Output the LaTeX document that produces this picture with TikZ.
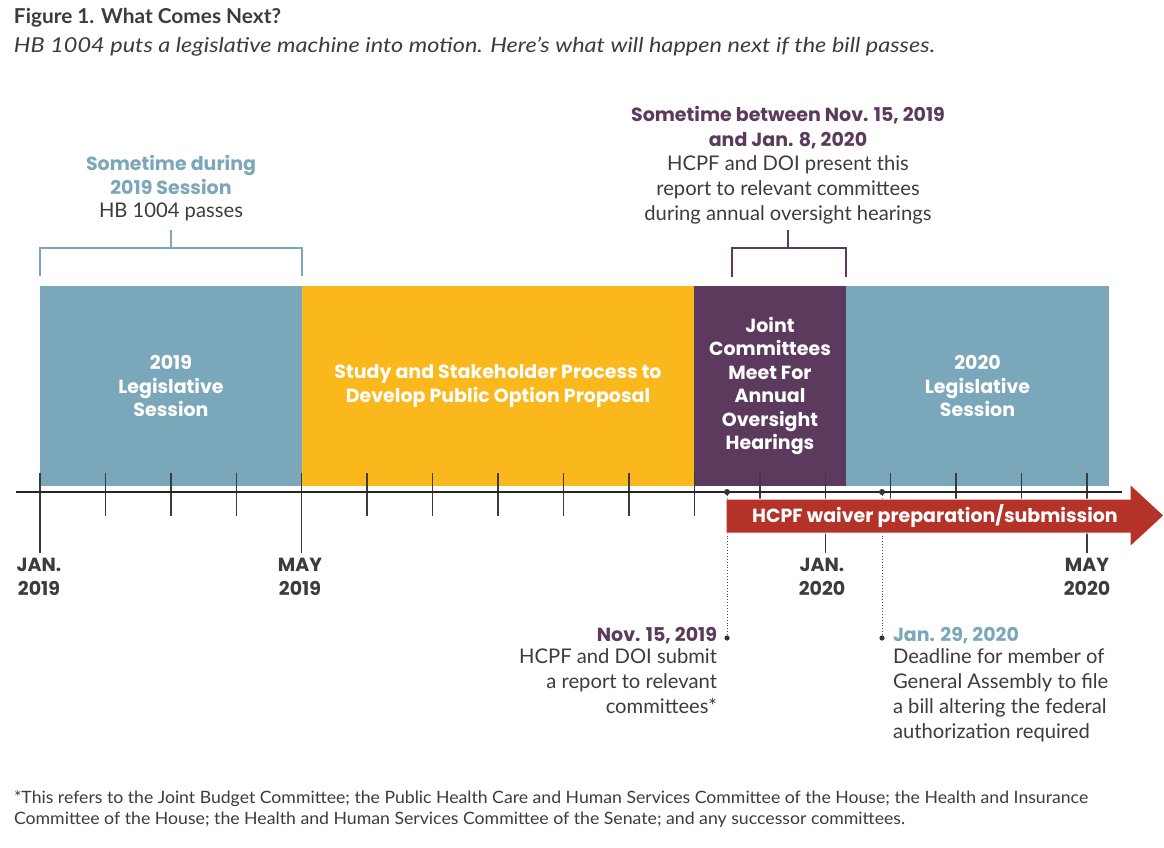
\documentclass[tikz,border=0pt]{standalone}
\usepackage{fontspec}
\setmainfont{Lato}
\newfontfamily\headfont{Poppins}
\usepackage{graphicx}
\definecolor{cTeal}{HTML}{7BA7BA}
\definecolor{cOrange}{HTML}{FBB81C}
\definecolor{cPurple}{HTML}{5C3A5E}
\definecolor{cRed}{HTML}{B53228}
\definecolor{cText}{HTML}{3C3C3C}
\tikzset{
  bar/.style={draw=none, inner sep=0pt, anchor=north west, minimum height=200pt,
    text=white, align=center, font=\headfont\bfseries\fontsize{19}{23.5}\selectfont},
  tickline/.style={draw=cText, line width=1.4pt},
  axisline/.style={draw=black!85, line width=1.8pt},
  bodytext/.style={text=cText, font=\fontsize{20.2}{24.8}\selectfont},
  headtext/.style={font=\headfont\bfseries\fontsize{19}{24.8}\selectfont},
  datetext/.style={text=cText, align=center, font=\headfont\bfseries\fontsize{19}{24}\selectfont},
  bracketline/.style={line width=1.5pt},
  dotline/.style={draw=black!70, line width=0.9pt, dotted},
}
\begin{document}
\begin{tikzpicture}[x=1pt,y=-1pt, every node/.style={inner sep=0pt, outer sep=0pt}]
\fill[white] (0,0) rectangle (1164,847);
\useasboundingbox (0,0) rectangle (1164,847);

% title
\node[anchor=west, text=cText, font=\bfseries\fontsize{20.5}{24}\selectfont] (title) at (14,18) {\resizebox{267pt}{\height}{Figure 1. What Comes Next?}};
\node[anchor=west, text=cText, font=\itshape\fontsize{20.5}{24}\selectfont] (subtitle) at (14,47) {\resizebox{921pt}{\height}{HB 1004 puts a legislative machine into motion. Here’s what will happen next if the bill passes.}};

% bars
\node[bar, fill=cTeal, minimum width=262pt] (b1) at (40,286) {2019\\Legislative\\Session};
\node[bar, fill=cOrange, minimum width=392pt] (b2) at (302,286) {Study and Stakeholder Process to\\Develop Public Option Proposal};
\node[bar, fill=cPurple, minimum width=152pt] (b3) at (694,286) {Joint\\Committees\\Meet For\\Annual\\Oversight\\Hearings};
\node[bar, fill=cTeal, minimum width=263pt] (b4) at (846,286) {2020\\Legislative\\Session};

% ticks
\foreach \i in {0,...,16} {
  \draw[tickline] ({40+65.4375*\i},473) -- ({40+65.4375*\i},516);
}
\foreach \i in {0,4,12,16} {
  \draw[tickline] ({40+65.4375*\i},473) -- ({40+65.4375*\i},553);
}
% axis
\draw[axisline] (16,492) -- (1122,492);

% dots and dotted leaders
\coordinate (d1) at (727,492);
\coordinate (d1b) at (727,638);
\coordinate (d2) at (882,492);
\coordinate (d2b) at (882,638);
\draw[dotline] (d1) -- (d1b);
\draw[dotline] (d2) -- (d2b);
\fill[black!80] (d1) circle (3pt);
\fill[black!80] (d1b) circle (2.6pt);
\fill[black!80] (d2) circle (3pt);
\fill[black!80] (d2b) circle (2.6pt);

% red arrow
\fill[cRed, draw=white, line width=1pt] (726,499) -- (1130,499) -- (1130,484) -- (1164,515.5) -- (1130,547) -- (1130,533) -- (726,533) -- cycle;
\node[text=white, font=\headfont\bfseries\fontsize{19}{24}\selectfont] (arrowtext) at (935,516) {HCPF waiver preparation/submission};

% axis labels
\node[datetext] (jan19) at (39,577) {JAN.\\2019};
\node[datetext] (may19) at (300,577) {MAY\\2019};
\node[datetext] (jan20) at (822,577) {JAN.\\2020};
\node[datetext] (may20) at (1087,577) {MAY\\2020};

% upper left
\node[headtext, text=cTeal, align=center] (h1) at (171,175) {Sometime during\\2019 Session};
\node[bodytext] (t1) at (171,212) {HB 1004 passes};
\coordinate (s1) at (171,230);
\coordinate (s1b) at (171,248);
\draw[cTeal, bracketline] (40,276) -- (40,248) -- (302,248) -- (302,276);
\draw[cTeal, bracketline] (s1) -- (s1b);

% upper right
\node[headtext, text=cPurple, align=center] (h2) at (788,128) {Sometime between Nov. 15, 2019\\and Jan. 8, 2020};
\node[bodytext, align=center] (t2) at (788,190) {HCPF and DOI present this\\report to relevant committees\\during annual oversight hearings};
\coordinate (s2) at (788,230);
\coordinate (s2b) at (788,248);
\draw[cPurple, bracketline] (732,277) -- (732,248) -- (846,248) -- (846,277);
\draw[cPurple, bracketline] (s2) -- (s2b);

% lower left
\node[headtext, text=cPurple, anchor=east] (h3) at (717,636) {Nov. 15, 2019};
\node[bodytext, align=right, anchor=north east] (t3) at (717,649) {HCPF and DOI submit\\a report to relevant\\committees*};

% lower right
\node[headtext, text=cTeal, anchor=west] (h4) at (893,636) {Jan. 29, 2020};
\node[bodytext, align=left, anchor=north west] (t4) at (893,649) {Deadline for member of\\General Assembly to file\\a bill altering the federal\\authorization required};

% footnote
\node[anchor=west, text=cText, font=\fontsize{17}{21}\selectfont] (fn1) at (14,799) {\resizebox{1074pt}{\height}{*This refers to the Joint Budget Committee; the Public Health Care and Human Services Committee of the House; the Health and Insurance}};
\node[anchor=west, text=cText, font=\fontsize{17}{21}\selectfont] (fn2) at (14,820) {\resizebox{891pt}{\height}{Committee of the House; the Health and Human Services Committee of the Senate; and any successor committees.}};
\end{tikzpicture}
\end{document}
